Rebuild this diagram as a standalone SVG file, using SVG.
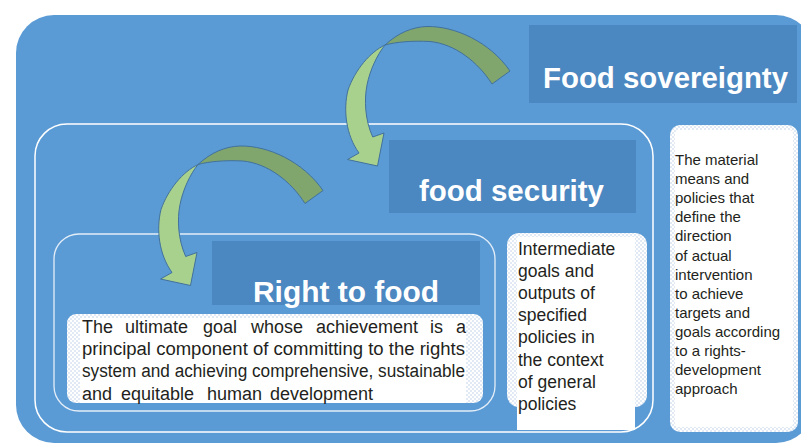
<svg xmlns="http://www.w3.org/2000/svg" width="801" height="445" viewBox="0 0 801 445">
<defs>
<style>
.title{font-family:"Liberation Sans",Arial,sans-serif;font-weight:bold;fill:#ffffff;font-size:30px}
.body{font-family:"Liberation Sans",Arial,sans-serif;fill:#231f20}
.band{fill:#4b87c0}
.frame{fill:none;stroke:#ffffff;stroke-width:1.5}
.frame2{fill:none;stroke:#e4eef8;stroke-width:1.3}
.arrow-back{fill:#80a66d;stroke:#41719c;stroke-width:1}
.arrow-front{fill:#a9d18e;stroke:#41719c;stroke-width:1}
</style>
<pattern id="dots" width="4" height="4" patternUnits="userSpaceOnUse">
<rect width="4" height="4" fill="#ffffff"/>
<rect width="2" height="2" fill="#e0e9f4"/>
<rect x="2" y="2" width="2" height="2" fill="#e0e9f4"/>
</pattern>
<g id="curved-arrow">
<path class="arrow-back" d="M385,45 C398,33 412,27 427,26.5 C455,26 490,42 510,71 L492,84 C478,62 455,44 430,41.5 C412,40.5 396,42 385,45 Z"/>
<path class="arrow-front" d="M385,45 C370,52 355,70 348,90 C343,110 346,135 359,153 L347.5,159.5 L377.5,166 L384,133 L372.7,137 C365,120 364,100 367,85 C370,70 377,55 385,45 Z"/>
</g>
</defs>
<rect width="801" height="445" fill="#ffffff"/>

<g id="food-sovereignty">
<rect x="16" y="15" width="798" height="428" rx="38" fill="#5b9bd5"/>
<rect class="band" x="529" y="25" width="268" height="78"/>
<text class="title" x="543" y="88" textLength="245" lengthAdjust="spacingAndGlyphs">Food sovereignty</text>
</g>

<g id="food-security">
<rect class="frame" x="35" y="124" width="618" height="308" rx="32"/>
<rect class="band" x="389" y="140" width="247" height="73"/>
<text class="title" x="419" y="201" textLength="185" lengthAdjust="spacingAndGlyphs">food security</text>
</g>

<g id="right-to-food">
<rect class="frame2" x="54" y="234" width="441" height="177" rx="25"/>
<rect class="band" x="212" y="241" width="268" height="64"/>
<text class="title" x="253" y="302" textLength="186" lengthAdjust="spacingAndGlyphs">Right to food</text>
</g>

<g id="ultimate-goal">
<rect x="67" y="314" width="416" height="89" rx="9" fill="url(#dots)"/>
<rect x="80" y="318" width="386" height="85" fill="#ffffff"/>
<text class="body" font-size="18">
<tspan x="82" y="333">The</tspan><tspan x="125" y="333">ultimate</tspan><tspan x="203" y="333">goal</tspan><tspan x="251" y="333">whose</tspan><tspan x="316" y="333">achievement</tspan><tspan x="430" y="333">is</tspan><tspan x="456" y="333">a</tspan>
</text>
<text class="body" font-size="18" x="82" y="355" textLength="383" lengthAdjust="spacingAndGlyphs">principal component of committing to the rights</text>
<text class="body" font-size="18" x="82" y="377" textLength="383" lengthAdjust="spacingAndGlyphs">system and achieving comprehensive, sustainable</text>
<text class="body" font-size="18">
<tspan x="82" y="400">and</tspan><tspan x="121" y="400">equitable</tspan><tspan x="207" y="400">human</tspan><tspan x="270" y="400">development</tspan>
</text>
</g>

<g id="intermediate-goals">
<rect x="507" y="233" width="140" height="174" rx="12" fill="url(#dots)"/>
<rect x="517" y="237" width="118" height="193" fill="#ffffff"/>
<text class="body" font-size="17.5">
<tspan x="518" y="255">Intermediate</tspan>
<tspan x="518" y="277.1">goals and</tspan>
<tspan x="518" y="299.2">outputs of</tspan>
<tspan x="518" y="321.3">specified</tspan>
<tspan x="518" y="343.4">policies in</tspan>
<tspan x="518" y="365.5">the context</tspan>
<tspan x="518" y="387.6">of general</tspan>
<tspan x="518" y="409.7">policies</tspan>
</text>
</g>

<g id="material-means">
<rect x="670" y="125" width="128" height="307" rx="10" fill="url(#dots)"/>
<rect x="675" y="130" width="118" height="297" rx="4" fill="#ffffff"/>
<text class="body" font-size="15">
<tspan x="675" y="165">The material</tspan>
<tspan x="675" y="184.1">means and</tspan>
<tspan x="675" y="203.2">policies that</tspan>
<tspan x="675" y="222.3">define the</tspan>
<tspan x="675" y="241.4">direction</tspan>
<tspan x="675" y="260.5">of actual</tspan>
<tspan x="675" y="279.6">intervention</tspan>
<tspan x="675" y="298.7">to achieve</tspan>
<tspan x="675" y="317.8">targets and</tspan>
<tspan x="675" y="336.9">goals according</tspan>
<tspan x="675" y="356">to a rights-</tspan>
<tspan x="675" y="375.1">development</tspan>
<tspan x="675" y="394.2">approach</tspan>
</text>
</g>

<g id="connectors">
<use href="#curved-arrow"/>
<use href="#curved-arrow" transform="translate(-187,119.5)"/>
</g>
</svg>
